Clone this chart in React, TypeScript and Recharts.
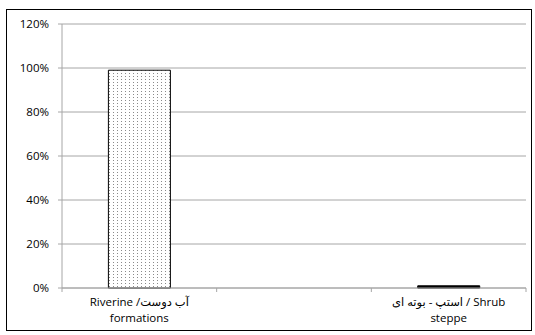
import React from "react";
import { BarChart, Bar, XAxis, YAxis, CartesianGrid, Cell } from "recharts";

const categoryLines: string[][] = [
  ["Riverine /آب دوست", "formations"],
  ["", ""],
  ["استپ - بوته ای / Shrub", "steppe"],
];
const categories = ["riverine", "blank", "shrub"];
const shares: (number | null)[] = [0.99, null, 0.01];
const yTicks = [0, 0.2, 0.4, 0.6, 0.8, 1.0, 1.2];

const barFills = ["url(#dotsPattern)", "#000000", "#000000"];

const W = 535;
const H = 335;
const M = { top: 24, right: 9, bottom: 10, left: 8 };
const Y_W = 54;
const X_H = 37;
const GREY = "#a6a6a6";
const FONT = "'Open Sans', 'DejaVu Sans', sans-serif";
const LRM = "\u200E";

const data = categories.map((c, i) => ({ key: c, value: shares[i], idx: i }));
const band = (W - M.left - Y_W - M.right) / categories.length;

const XTick = (props: any) => {
  const { x, y, payload } = props;
  const i = payload.index ?? categories.indexOf(payload.value);
  const lines = categoryLines[i] || ["", ""];
  return (
    <g>
      <line x1={x - band / 2} x2={x - band / 2} y1={y} y2={y + 4} stroke={GREY} />
      {i === categories.length - 1 && (
        <line x1={x + band / 2} x2={x + band / 2} y1={y} y2={y + 4} stroke={GREY} />
      )}
      <text
        x={x}
        y={y + 18}
        textAnchor="middle"
        fontSize={11.5}
        fill="#000"
        fontFamily={FONT}
        direction="ltr"
        style={{ unicodeBidi: "embed" }}
      >
        {lines[0] ? LRM + lines[0] + LRM : ""}
      </text>
      <text x={x} y={y + 34} textAnchor="middle" fontSize={11.5} fill="#000" fontFamily={FONT}>
        {lines[1]}
      </text>
    </g>
  );
};

export default function App() {
  return (
    <div style={{ position: "absolute", left: 0, top: 0, width: W, height: H, background: "#fff" }}>
      <svg width={0} height={0} style={{ position: "absolute" }}>
        <defs>
          <pattern id="dotsPattern" width={4} height={3} patternUnits="userSpaceOnUse">
            <rect width={4} height={3} fill="#ffffff" />
            <rect x={1} y={1} width={1} height={1} fill="#8a8a8a" />
          </pattern>
        </defs>
      </svg>
      <div
        style={{
          position: "absolute",
          left: 6,
          top: 9,
          width: 524,
          height: 320,
          border: "1px solid #000",
        }}
      />
      <div style={{ position: "absolute", left: 0, top: 0 }}>
        <BarChart width={W} height={H} data={data} margin={M} barCategoryGap="30%">
          <CartesianGrid vertical={false} stroke={GREY} />
          <XAxis
            dataKey="key"
            axisLine={{ stroke: GREY }}
            tickLine={false}
            tickSize={0}
            tickMargin={0}
            height={X_H}
            interval={0}
            tick={<XTick />}
          />
          <YAxis
            domain={[0, 1.2]}
            ticks={yTicks}
            width={Y_W}
            axisLine={{ stroke: GREY }}
            tickLine={{ stroke: GREY }}
            tickSize={4}
            tickMargin={9}
            tickFormatter={(v: number) => `${Math.round(v * 100)}%`}
            tick={{ fontSize: 11.5, fill: "#000", fontFamily: FONT }}
          />
          <Bar dataKey="value" isAnimationActive={false} stroke="#000" strokeWidth={1}>
            {data.map((d, i) => (
              <Cell key={d.key} fill={barFills[i]} />
            ))}
          </Bar>
        </BarChart>
      </div>
    </div>
  );
}
